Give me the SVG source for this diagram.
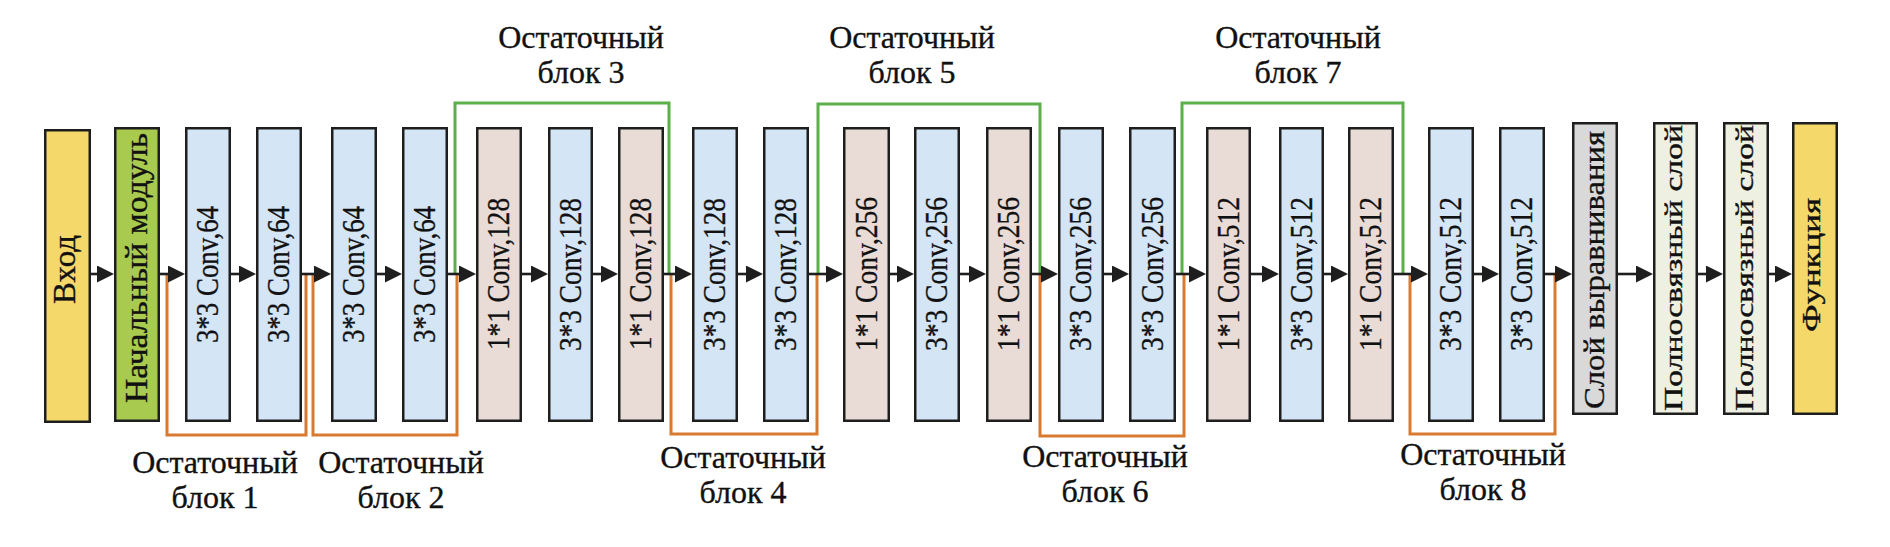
<svg xmlns="http://www.w3.org/2000/svg" width="1890" height="547" viewBox="0 0 1890 547" font-family="'Liberation Serif', 'Times New Roman', serif">
<defs>
<style>
.b{stroke:#1e1e1e;stroke-width:2.5}
.in{fill:#f4d86a}
.st{fill:#a8cb4f}
.c3{fill:#d4e5f6}
.c1{fill:#e9dcd7}
.fl{fill:#d9d9d9}
.fc{fill:#eef0e1}
.t{font-family:'Liberation Serif','Times New Roman',serif;fill:#111;stroke:#111;stroke-width:0.35}
.lbl{font-size:32px;text-anchor:middle}
.arr{stroke:#1e1e1e;stroke-width:2.6;fill:none;marker-end:url(#ah)}
.res{stroke:#d87a30;stroke-width:3;fill:none}
.grn{stroke:#5bb04a;stroke-width:3;fill:none}
</style>
<marker id="ah" markerUnits="userSpaceOnUse" markerWidth="17" markerHeight="17" refX="9" refY="8.5" orient="auto"><path d="M0,0L17,8.5L0,17z" fill="#1e1e1e"/></marker>
</defs>
<rect width="1890" height="547" fill="#fff"/>
<g id="connectors">
<path class="res" d="M167,274V435H306V274"/>
<path class="res" d="M313,274V435H457V274"/>
<path class="res" d="M671,274V434H817V274"/>
<path class="res" d="M1040,274V436H1184V274"/>
<path class="res" d="M1410,274V434H1555V274"/>
<path class="grn" d="M455,274V103H669V274"/>
<path class="grn" d="M818,274V104H1040V274"/>
<path class="grn" d="M1182,274V103H1403V274"/>
<path class="arr" d="M91,274H106"/>
<path class="arr" d="M160,274H177"/>
<path class="arr" d="M231,274H248"/>
<path class="arr" d="M302,274H323"/>
<path class="arr" d="M377,274H394"/>
<path class="arr" d="M448,274H468"/>
<path class="arr" d="M522,274H540"/>
<path class="arr" d="M593,274H610"/>
<path class="arr" d="M664,274H684"/>
<path class="arr" d="M738,274H755"/>
<path class="arr" d="M809,274H835"/>
<path class="arr" d="M890,274H906"/>
<path class="arr" d="M960,274H978"/>
<path class="arr" d="M1032,274H1050"/>
<path class="arr" d="M1104,274H1121"/>
<path class="arr" d="M1176,274H1198"/>
<path class="arr" d="M1251,274H1271"/>
<path class="arr" d="M1324,274H1340"/>
<path class="arr" d="M1394,274H1420"/>
<path class="arr" d="M1474,274H1491"/>
<path class="arr" d="M1545,274H1564"/>
<path class="arr" d="M1618,274H1645"/>
<path class="arr" d="M1698,274H1715"/>
<path class="arr" d="M1769,274H1784"/>
</g>
<g id="n-input"><rect class="b in" x="45.25" y="130.25" width="44.5" height="291.5"/><text class="t" transform="translate(67.5,269.5) rotate(-90)" x="-34.5" y="7.5" font-size="32" textLength="69" lengthAdjust="spacingAndGlyphs">Вход</text></g>
<g id="n-stem"><rect class="b st" x="115.25" y="128.25" width="43.5" height="292.5"/><text class="t" transform="translate(137,268) rotate(-90)" x="-135" y="10" font-size="32" textLength="270" lengthAdjust="spacingAndGlyphs">Начальный модуль</text></g>
<g id="n-c1"><rect class="b c3" x="186.25" y="128.25" width="43.5" height="292.5"/><text class="t" transform="translate(208,274.5) rotate(-90)" x="-68.5" y="9.5" font-size="31" textLength="137" lengthAdjust="spacingAndGlyphs">3*3 Conv,64</text></g>
<g id="n-c2"><rect class="b c3" x="257.25" y="128.25" width="43.5" height="292.5"/><text class="t" transform="translate(279,274.5) rotate(-90)" x="-68.5" y="9.5" font-size="31" textLength="137" lengthAdjust="spacingAndGlyphs">3*3 Conv,64</text></g>
<g id="n-c3"><rect class="b c3" x="332.25" y="128.25" width="43.5" height="292.5"/><text class="t" transform="translate(354,274.5) rotate(-90)" x="-68.5" y="9.5" font-size="31" textLength="137" lengthAdjust="spacingAndGlyphs">3*3 Conv,64</text></g>
<g id="n-c4"><rect class="b c3" x="403.25" y="128.25" width="43.5" height="292.5"/><text class="t" transform="translate(425,274.5) rotate(-90)" x="-68.5" y="9.5" font-size="31" textLength="137" lengthAdjust="spacingAndGlyphs">3*3 Conv,64</text></g>
<g id="n-c5"><rect class="b c1" x="477.25" y="128.25" width="43.5" height="292.5"/><text class="t" transform="translate(499,274) rotate(-90)" x="-76" y="10" font-size="31" textLength="152" lengthAdjust="spacingAndGlyphs">1*1 Conv,128</text></g>
<g id="n-c6"><rect class="b c3" x="549.25" y="128.25" width="42.5" height="292.5"/><text class="t" transform="translate(570.5,274.5) rotate(-90)" x="-76.5" y="10" font-size="31" textLength="153" lengthAdjust="spacingAndGlyphs">3*3 Conv,128</text></g>
<g id="n-c7"><rect class="b c1" x="619.25" y="128.25" width="43.5" height="292.5"/><text class="t" transform="translate(641,274) rotate(-90)" x="-76" y="10" font-size="31" textLength="152" lengthAdjust="spacingAndGlyphs">1*1 Conv,128</text></g>
<g id="n-c8"><rect class="b c3" x="693.25" y="128.25" width="43.5" height="292.5"/><text class="t" transform="translate(715,274.5) rotate(-90)" x="-76.5" y="10" font-size="31" textLength="153" lengthAdjust="spacingAndGlyphs">3*3 Conv,128</text></g>
<g id="n-c9"><rect class="b c3" x="764.25" y="128.25" width="43.5" height="292.5"/><text class="t" transform="translate(786,274.5) rotate(-90)" x="-76.5" y="10" font-size="31" textLength="153" lengthAdjust="spacingAndGlyphs">3*3 Conv,128</text></g>
<g id="n-c10"><rect class="b c1" x="844.25" y="128.25" width="44.5" height="292.5"/><text class="t" transform="translate(866.5,274) rotate(-90)" x="-77" y="10" font-size="31" textLength="154" lengthAdjust="spacingAndGlyphs">1*1 Conv,256</text></g>
<g id="n-c11"><rect class="b c3" x="915.25" y="128.25" width="43.5" height="292.5"/><text class="t" transform="translate(937,274) rotate(-90)" x="-77" y="10" font-size="31" textLength="154" lengthAdjust="spacingAndGlyphs">3*3 Conv,256</text></g>
<g id="n-c12"><rect class="b c1" x="987.25" y="128.25" width="43.5" height="292.5"/><text class="t" transform="translate(1009,274) rotate(-90)" x="-77" y="10" font-size="31" textLength="154" lengthAdjust="spacingAndGlyphs">1*1 Conv,256</text></g>
<g id="n-c13"><rect class="b c3" x="1059.25" y="128.25" width="43.5" height="292.5"/><text class="t" transform="translate(1081,274) rotate(-90)" x="-77" y="10" font-size="31" textLength="154" lengthAdjust="spacingAndGlyphs">3*3 Conv,256</text></g>
<g id="n-c14"><rect class="b c3" x="1130.25" y="128.25" width="44.5" height="292.5"/><text class="t" transform="translate(1152.5,274) rotate(-90)" x="-77" y="10" font-size="31" textLength="154" lengthAdjust="spacingAndGlyphs">3*3 Conv,256</text></g>
<g id="n-c15"><rect class="b c1" x="1207.25" y="128.25" width="42.5" height="292.5"/><text class="t" transform="translate(1228.5,274) rotate(-90)" x="-77" y="10" font-size="31" textLength="154" lengthAdjust="spacingAndGlyphs">1*1 Conv,512</text></g>
<g id="n-c16"><rect class="b c3" x="1280.25" y="128.25" width="42.5" height="292.5"/><text class="t" transform="translate(1301.5,274) rotate(-90)" x="-77" y="10" font-size="31" textLength="154" lengthAdjust="spacingAndGlyphs">3*3 Conv,512</text></g>
<g id="n-c17"><rect class="b c1" x="1349.25" y="128.25" width="43.5" height="292.5"/><text class="t" transform="translate(1371,274) rotate(-90)" x="-77" y="10" font-size="31" textLength="154" lengthAdjust="spacingAndGlyphs">1*1 Conv,512</text></g>
<g id="n-c18"><rect class="b c3" x="1429.25" y="128.25" width="43.5" height="292.5"/><text class="t" transform="translate(1451,274) rotate(-90)" x="-77" y="10" font-size="31" textLength="154" lengthAdjust="spacingAndGlyphs">3*3 Conv,512</text></g>
<g id="n-c19"><rect class="b c3" x="1500.25" y="128.25" width="43.5" height="292.5"/><text class="t" transform="translate(1522,274) rotate(-90)" x="-77" y="10" font-size="31" textLength="154" lengthAdjust="spacingAndGlyphs">3*3 Conv,512</text></g>
<g id="n-flatten"><rect class="b fl" x="1573.25" y="123.25" width="43.5" height="290.5"/><text class="t" transform="translate(1595,270) rotate(-90)" x="-139" y="8.5" font-size="30" textLength="278" lengthAdjust="spacingAndGlyphs">Слой выравнивания</text></g>
<g id="n-fc1"><rect class="b fc" x="1654.25" y="123.25" width="42.5" height="290.5"/><text class="t" transform="translate(1675.5,268) rotate(-90)" x="-143" y="6.5" font-size="25" textLength="286" lengthAdjust="spacingAndGlyphs">Полносвязный слой</text></g>
<g id="n-fc2"><rect class="b fc" x="1724.25" y="123.25" width="43.5" height="290.5"/><text class="t" transform="translate(1746,268) rotate(-90)" x="-143" y="6.5" font-size="25" textLength="286" lengthAdjust="spacingAndGlyphs">Полносвязный слой</text></g>
<g id="n-func"><rect class="b in" x="1793.25" y="123.25" width="43.5" height="290.5"/><text class="t" transform="translate(1815,265) rotate(-90)" x="-67" y="5" font-size="26" textLength="134" lengthAdjust="spacingAndGlyphs">Функция</text></g>
<g id="labels">
<text class="t lbl"><tspan x="581" y="48">Остаточный</tspan><tspan x="581" y="83">блок 3</tspan></text>
<text class="t lbl"><tspan x="912" y="48">Остаточный</tspan><tspan x="912" y="83">блок 5</tspan></text>
<text class="t lbl"><tspan x="1298" y="48">Остаточный</tspan><tspan x="1298" y="83">блок 7</tspan></text>
<text class="t lbl"><tspan x="215" y="473">Остаточный</tspan><tspan x="215" y="508">блок 1</tspan></text>
<text class="t lbl"><tspan x="401" y="473">Остаточный</tspan><tspan x="401" y="508">блок 2</tspan></text>
<text class="t lbl"><tspan x="743" y="468">Остаточный</tspan><tspan x="743" y="503">блок 4</tspan></text>
<text class="t lbl"><tspan x="1105" y="467">Остаточный</tspan><tspan x="1105" y="502">блок 6</tspan></text>
<text class="t lbl"><tspan x="1483" y="465">Остаточный</tspan><tspan x="1483" y="500">блок 8</tspan></text>
</g>
</svg>
